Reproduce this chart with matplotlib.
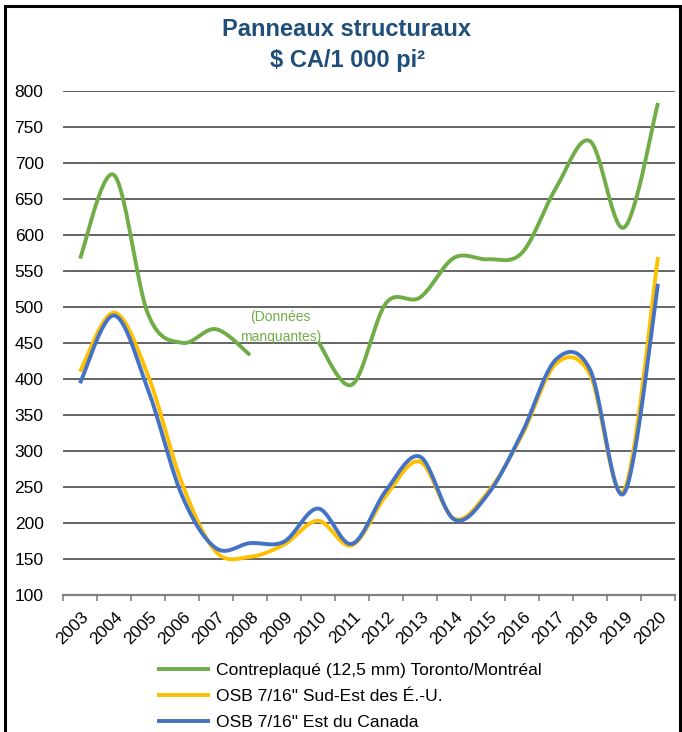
import numpy as np
import matplotlib
matplotlib.use("Agg")
import matplotlib.pyplot as plt
from matplotlib.patches import Rectangle
from matplotlib.transforms import ScaledTranslation

years = [str(y) for y in range(2003, 2021)]
contreplaque = [567, 683, 490, 450, 469, 433, np.nan, 452, 392, 505, 513, 568, 566, 575, 665, 730, 610, 783]
osb_se_us = [410, 492, 405, 255, 160, 153, 170, 203, 169, 238, 285, 206, 243, 322, 421, 406, 245, 569]
osb_est_ca = [394, 488, 385, 238, 165, 172, 174, 220, 171, 245, 292, 205, 240, 325, 427, 413, 241, 532]

labels = ["Contreplaqué (12,5 mm) Toronto/Montréal",
          "OSB 7/16\" Sud-Est des É.-U.",
          "OSB 7/16\" Est du Canada"]
colors = ["#70AD47", "#FFC000", "#4472C4"]

title_color = "#1F4E79"
plt.rcParams['font.family'] = ['Liberation Sans', 'DejaVu Sans']


def smooth_runs(xs, ys, n=30):
    """Excel-like smoothed line (Catmull-Rom Bezier), split at missing values."""
    xs = np.asarray(xs, float)
    ys = np.asarray(ys, float)
    runs = []
    cur = []
    for i in range(len(ys)):
        if np.isnan(ys[i]):
            if cur:
                runs.append(cur)
            cur = []
        else:
            cur.append(i)
    if cur:
        runs.append(cur)
    out = []
    t = np.linspace(0, 1, n)
    for r in runs:
        px = xs[r]
        py = ys[r]
        m = len(r)
        if m == 1:
            out.append((px, py))
            continue
        X, Y = [], []
        for k in range(m - 1):
            p0 = np.array([px[max(k - 1, 0)], py[max(k - 1, 0)]])
            p1 = np.array([px[k], py[k]])
            p2 = np.array([px[k + 1], py[k + 1]])
            p3 = np.array([px[min(k + 2, m - 1)], py[min(k + 2, m - 1)]])
            c1 = p1 + (p2 - p0) / 6.0
            c2 = p2 - (p3 - p1) / 6.0
            b = ((1 - t) ** 3)[:, None] * p1 + (3 * (1 - t) ** 2 * t)[:, None] * c1 \
                + (3 * (1 - t) * t ** 2)[:, None] * c2 + (t ** 3)[:, None] * p2
            X.extend(b[:, 0])
            Y.extend(b[:, 1])
        out.append((np.array(X), np.array(Y)))
    return out


W, H = 682, 732
fig = plt.figure(figsize=(W / 100, H / 100), dpi=100)
ax = fig.add_axes([63 / W, 1 - 595 / H, (675 - 63) / W, (595 - 90.7) / H])

x = np.arange(len(years))
handles = []
for series, col, lab in zip([contreplaque, osb_se_us, osb_est_ca], colors, labels):
    first = True
    for sx, sy in smooth_runs(x, series):
        ln, = ax.plot(sx, sy, color=col, lw=2.8, solid_capstyle='butt', zorder=3,
                      label=lab if first else None)
        if first:
            handles.append(ln)
        first = False

ax.set_xlim(-0.5, len(years) - 0.5)
ax.set_ylim(100, 800)
ax.set_yticks(np.arange(100, 801, 50))
ax.grid(axis='y', color='#3a3a3a', lw=1.1, zorder=1)
ax.set_axisbelow(True)
for s in ['left', 'right', 'top']:
    ax.spines[s].set_visible(False)
ax.spines['bottom'].set_color('#808080')
ax.spines['bottom'].set_linewidth(1.6)

ax.set_xticks(np.arange(-0.5, len(years)), minor=False)
ax.set_xticklabels([])
ax.set_xticks(x, minor=True)
ax.set_xticklabels(years, minor=True, rotation=45, ha='right', va='center',
                   rotation_mode='anchor', fontsize=12.5)
ax.tick_params(axis='x', which='major', direction='out', length=4, width=1.2, color='#808080')
ax.tick_params(axis='x', which='minor', length=0, pad=14)
ax.tick_params(axis='y', length=0, pad=14, labelsize=12.5)
for lbl in ax.get_xticklabels(minor=True):
    lbl.set_transform(lbl.get_transform() + ScaledTranslation(6 / 100, 0, fig.dpi_scale_trans))

ax.text(5.9, 472, "(Données\nmanquantes)", color="#70AD47", fontsize=10,
        ha='center', va='center', linespacing=1.5, zorder=4)

fig.text(347 / W, 1 - 30 / H, "Panneaux structuraux", ha='center', va='center',
         fontsize=17, fontweight='bold', color=title_color,
         family=['Liberation Sans Narrow', 'Liberation Sans', 'DejaVu Sans'])
fig.text(347 / W, 1 - 61 / H, "$ CA/1 000 pi²", ha='center', va='center',
         fontsize=17, fontweight='bold', color=title_color,
         family=['Liberation Sans Narrow', 'Liberation Sans', 'DejaVu Sans'])

fig.legend(handles=handles, loc='upper left', bbox_to_anchor=(157 / W, 1 - 663 / H),
           frameon=False, fontsize=12.6, handlelength=3.05, handletextpad=0.33,
           labelspacing=0.62, borderpad=0, borderaxespad=0)

fig.patches.append(Rectangle((4.5 / W, -0.05), (680 - 4.5) / W, 1.05 - 6 / H,
                             transform=fig.transFigure, fill=False, edgecolor='black',
                             lw=2.2, clip_on=False))

fig.savefig("out.png", dpi=100)
